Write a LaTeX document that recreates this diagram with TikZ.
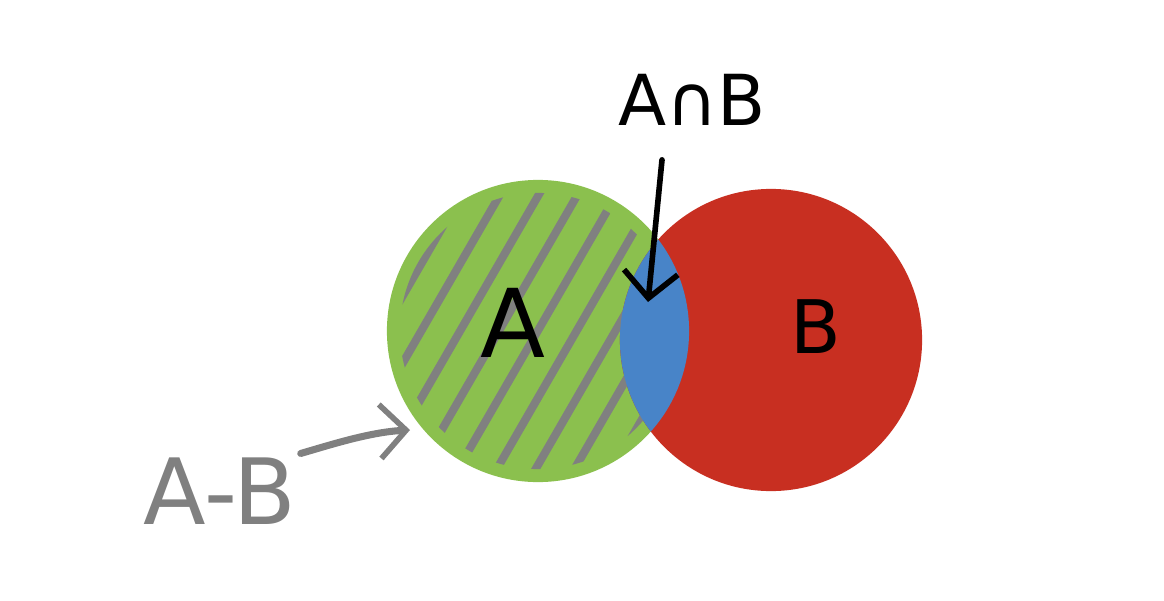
\documentclass[tikz,border=0pt]{standalone}
\usepackage{fontspec}
\usepackage{tikz}
\usetikzlibrary{positioning, arrows.meta, calc}
\newfontfamily\handfont{DejaVu Sans}
\definecolor{setgreen}{RGB}{139,192,78}
\definecolor{setred}{RGB}{200,47,33}
\definecolor{setblue}{RGB}{72,132,200}
\definecolor{hatchgray}{RGB}{128,128,128}

\begin{document}
\begin{tikzpicture}[
  x=0.01cm, y=-0.01cm,
  setcircle/.style={circle, minimum size=3.02cm, inner sep=0pt, fill=#1},
  hatch/.style={hatchgray, line width=2.3pt, line cap=round},
  label/.style={font=\handfont\fontsize{#1}{#1}\selectfont, inner sep=1pt},
  pointer/.style={-{Straight Barb[length=2.6mm, width=5.4mm, line width=1.6pt]}, line width=1.6pt, line cap=round},
]
\useasboundingbox (0,0) rectangle (1164,600);

% The two sets, A on the left and B on the right.
\node[setcircle=setgreen] (setA) at (538,331) {};
\node[setcircle=setred]   (setB) at (771,340) {};

% Hatching of A-B, kept inside circle A.
\begin{scope}
  \clip (setA.center) circle[radius=1.38cm];
  \foreach \k in {-5,...,5} {
    \draw[hatch] ($(setA.center)+(\k*29,\k*17)+(-110,190)$) -- ++(220,-381);
  }
\end{scope}

% Intersection, drawn on top of the hatching.
\begin{scope}
  \clip (setB.center) circle[radius=1.51cm];
  \fill[setblue] (setA.center) circle[radius=1.51cm];
\end{scope}

% Set names.
\node[label=27] (nameA) at (513,323) {A};
\node[label=21] (nameB) at (816,327) {B};

% Labels with their pointers.
\node[label=20] (capAB) at (692,100) {A∩B};
\coordinate (capEnd) at (648,302);
\draw[pointer] ($(capAB.south)+(-30,30)$) -- (capEnd);

\node[label=26, text=hatchgray] (diffAB) at (220,491) {A-B};
\coordinate (diffEnd) at (410,430);
\draw[pointer, hatchgray, line width=2pt] (diffAB.north east) .. controls (330,445) and (370,432) .. (diffEnd);
\end{tikzpicture}
\end{document}
